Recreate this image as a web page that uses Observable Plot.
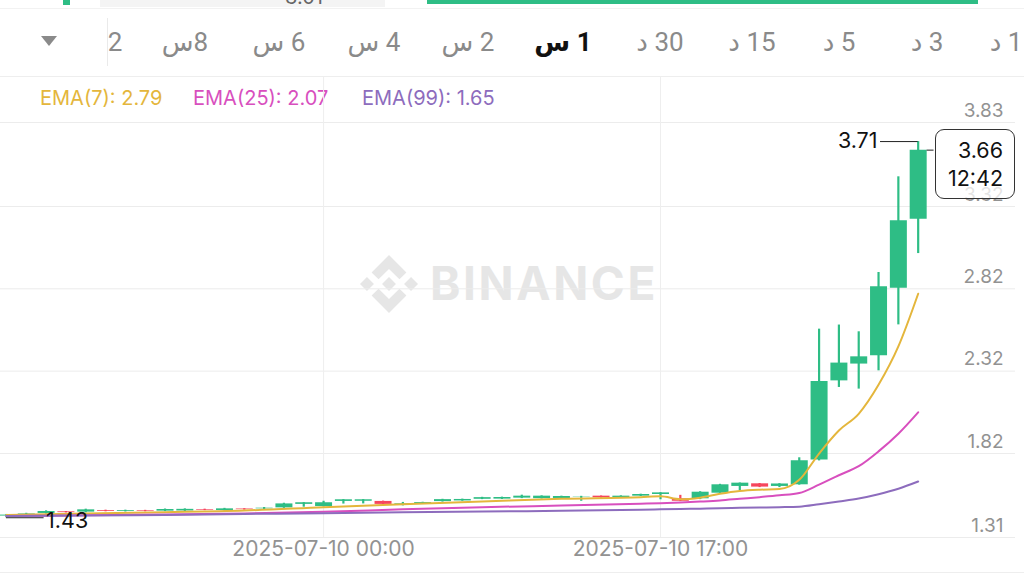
<!DOCTYPE html>
<html><head><meta charset="utf-8">
<script src="https://cdn.jsdelivr.net/npm/d3@7"></script>
<script src="https://cdn.jsdelivr.net/npm/@observablehq/plot@0.6"></script>
<style>
html,body{margin:0;padding:0;background:#fff}
body{width:1024px;height:576px;overflow:hidden;position:relative;font-family:Inter,Roboto,"DejaVu Sans",sans-serif}
.abs{position:absolute}
.tab{position:absolute;top:42px;transform:translate(-50%,-50%);font-size:26px;color:#8a8a8a;white-space:nowrap;font-family:Roboto,"DejaVu Sans",sans-serif}
.tab.sel{color:#111;font-weight:bold}
#legend span{position:absolute;top:98px;transform:translateY(-50%);font-size:20px;white-space:nowrap}
#chart{position:absolute;left:0;top:77px}
#chart svg{background:none !important}
.pbox{position:absolute;border:1.5px solid #333;border-radius:9px;background:rgba(255,255,255,0.75);box-sizing:border-box;font-size:21.5px;color:#111;text-align:right;line-height:28px;padding-right:11px}
</style>
</head><body>
<!-- top strip -->
<div class="abs" style="left:63px;top:0;width:7px;height:5px;background:#2ebd85"></div>
<div class="abs" style="left:100px;top:0;width:285px;height:7px;background:#f4f4f4;overflow:hidden">
  <div class="abs" style="left:185px;top:-15px;font-size:20px;color:#666">3.01</div>
</div>
<div class="abs" style="left:427px;top:0;width:551px;height:4px;background:#2ebd85"></div>
<div class="abs" style="left:0;top:8px;width:1024px;height:1px;background:#f2f2f2"></div>
<!-- tabs -->
<div class="abs" style="left:41px;top:36px;width:0;height:0;border-left:8px solid transparent;border-right:8px solid transparent;border-top:10px solid #8a8a8a"></div>
<div class="abs" style="left:107px;top:18px;width:1px;height:48px;background:#eaeaea"></div>
<div id="tabs"></div>
<div class="abs" style="left:0;top:76px;width:1024px;height:1px;background:#eeeeee"></div>
<!-- legend -->
<div id="legend"></div>
<!-- watermark -->
<svg class="abs" style="left:360px;top:255px" width="58" height="58" viewBox="0 0 100 100">
  <g fill="#e6e6e6">
    <polygon points="50,38 62,50 50,62 38,50"/>
    <polygon points="12,38 24,50 12,62 0,50"/>
    <polygon points="88,38 100,50 88,62 76,50"/>
    <polygon points="50,0 80,30 68,42 50,24 32,42 20,30"/>
    <polygon points="50,100 80,70 68,58 50,76 32,58 20,70"/>
  </g>
</svg>
<div class="abs" style="left:430px;top:283px;transform:translateY(-50%);font-size:46px;font-weight:bold;color:#e6e6e6;letter-spacing:2.6px;font-family:Inter,Roboto,sans-serif">BINANCE</div>
<div id="chart"></div>
<div class="abs" style="left:0;top:572px;width:1024px;height:1px;background:#eeeeee"></div>
<script>
// ---- data ----
const candleStart = "2025-07-09T08:00Z"; // first hourly candle
const opens  = [1.440,1.447,1.456,1.466,1.464,1.474,1.468,1.473,1.470,1.471,1.480,1.474,1.483,1.484,1.490,1.511,1.498,1.529,1.530,1.529,1.512,1.516,1.528,1.532,1.542,1.543,1.549,1.546,1.547,1.556,1.561,1.551,1.561,1.571,1.545,1.545,1.579,1.620,1.636,1.620,1.630,1.780,2.261,2.363,2.413,2.824,3.243];
const highs  = [1.450,1.457,1.472,1.468,1.482,1.476,1.476,1.475,1.483,1.484,1.482,1.487,1.485,1.492,1.518,1.522,1.530,1.540,1.540,1.531,1.523,1.524,1.542,1.543,1.554,1.555,1.567,1.563,1.561,1.560,1.562,1.563,1.573,1.582,1.566,1.588,1.633,1.641,1.638,1.637,1.794,2.575,2.600,2.559,2.919,3.500,3.714];
const lows   = [1.430,1.442,1.452,1.459,1.460,1.466,1.465,1.466,1.467,1.468,1.473,1.471,1.476,1.480,1.487,1.494,1.495,1.513,1.514,1.508,1.502,1.513,1.525,1.530,1.540,1.541,1.546,1.544,1.545,1.530,1.549,1.549,1.559,1.539,1.528,1.540,1.576,1.595,1.613,1.613,1.628,1.775,2.221,2.211,2.322,2.601,3.034];
const closes = [1.446,1.453,1.468,1.461,1.478,1.469,1.473,1.469,1.480,1.481,1.476,1.484,1.479,1.488,1.514,1.521,1.521,1.539,1.539,1.511,1.516,1.522,1.540,1.541,1.552,1.553,1.561,1.561,1.559,1.558,1.551,1.561,1.571,1.581,1.530,1.585,1.630,1.640,1.616,1.635,1.776,2.257,2.369,2.407,2.832,3.233,3.662];

const emaRef = "2025-07-10T00:00Z"; // hours below are relative to this
const emaHours = [-16,-12,-8,-4,0,4,8,12,16,17,18,19,20,21,22,23,24,25,26,27,28,29,30];
const ema7  = [1.446,1.456,1.464,1.474,1.494,1.512,1.528,1.545,1.555,1.560,1.542,1.552,1.575,1.592,1.600,1.604,1.660,1.820,1.960,2.061,2.237,2.470,2.790];
const ema25 = [1.440,1.445,1.450,1.456,1.466,1.481,1.494,1.504,1.515,1.518,1.522,1.528,1.535,1.545,1.555,1.566,1.580,1.631,1.688,1.743,1.833,1.940,2.070];
const ema99 = [1.440,1.443,1.447,1.453,1.457,1.464,1.468,1.472,1.479,1.481,1.483,1.485,1.487,1.490,1.492,1.494,1.497,1.512,1.529,1.547,1.573,1.606,1.650];

const yTicks = [1.31,1.82,2.32,2.82,3.32,3.83];
const xTicks = ["2025-07-10T00:00Z","2025-07-10T17:00Z"];
const tabLabels = ["2","8س","6 س","4 س","2 س","1 س","30 د","15 د","5 د","3 د","1 د"];
const selectedTab = "1 س";
const legendLabels = ["EMA(7): 2.79","EMA(25): 2.07","EMA(99): 1.65"];
const lastPrice = 3.66, countdown = "12:42", highLabel = "3.71", lowLabel = "1.43";

// ---- style ----
const GREEN = "#2ebd85", RED = "#f6465d";
const COLORS = ["#e4b63c","#d84fbe","#8d6cbd"];
const tabX = [115,185,279,374,468,563,660,752,839,927,1006];
const legX = [40,193,362];

const tabsDiv = document.getElementById("tabs");
tabLabels.forEach((t,i)=>{
  const s=document.createElement("span");
  s.className="tab"+(t===selectedTab?" sel":"");
  s.dir="rtl"; s.textContent=t; s.style.left=tabX[i]+"px";
  tabsDiv.appendChild(s);
});
const legDiv = document.getElementById("legend");
legendLabels.forEach((t,i)=>{
  const s=document.createElement("span");
  s.textContent=t; s.style.left=legX[i]+"px"; s.style.color=COLORS[i];
  legDiv.appendChild(s);
});

const H = 3600e3;
const t0 = new Date(candleStart).getTime();
const ref = new Date(emaRef).getTime();
const candles = opens.map((o,i)=>({t:new Date(t0+i*H), o, h:highs[i], l:lows[i], c:closes[i], up: closes[i]>=o}));
const emaSeries = [ema7,ema25,ema99].flatMap((arr,k)=>arr.map((v,i)=>({t:new Date(ref+emaHours[i]*H), v, k})));
const last = candles[candles.length-1];
const lowC = candles.reduce((a,b)=>b.l<a.l?b:a);
const hiC = candles.reduce((a,b)=>b.h>a.h?b:a);

const chart = Plot.plot({
  width:1024, height:499, marginTop:0, marginBottom:39, marginLeft:0, marginRight:9,
  x:{type:"utc", domain:[new Date(ref-16.30*H), new Date(ref+34.91*H)], axis:null},
  y:{domain:[1.31, 4.103], axis:null},
  style:{background:"none", fontFamily:"Inter,Roboto,sans-serif"},
  marks:[
    Plot.ruleY(yTicks, {stroke:"#ececec", strokeWidth:1}),
    Plot.ruleX(xTicks.map(d=>new Date(d)), {stroke:"#eeeeee", strokeWidth:1}),
    Plot.text(yTicks, {y:d=>d, text:d=>d.toFixed(2), frameAnchor:"right", textAnchor:"end", dx:-12, dy:-12, fill:"#929292", fontSize:19}),
    Plot.text(xTicks.map(d=>new Date(d)), {x:d=>d, text:d=>d3.utcFormat("%Y-%m-%d %H:%M")(d), frameAnchor:"bottom", dy:18, fill:"#929292", fontSize:21}),
    Plot.ruleX(candles, {x:"t", y1:"l", y2:"h", stroke:d=>d.up?GREEN:RED, strokeWidth:2.2}),
    Plot.ruleX(candles, {x:"t", y1:"o", y2:"c", stroke:d=>d.up?GREEN:RED, strokeWidth:17}),
    Plot.line(emaSeries, {x:"t", y:"v", z:"k", stroke:d=>COLORS[d.k], strokeWidth:2, curve:"monotone-x"}),
    // high marker
    Plot.ruleY([hiC], {y:"h", x1:d=>new Date(d.t.getTime()-1.9*H), x2:"t", stroke:"#222", strokeWidth:1}),
    Plot.text([hiC], {x:d=>new Date(d.t.getTime()-1.9*H), y:"h", text:()=>highLabel, textAnchor:"end", dx:-3, fill:"#111", fontSize:21.5}),
    // low marker
    Plot.ruleY([lowC], {y:"l", x1:"t", x2:d=>new Date(d.t.getTime()+1.9*H), stroke:"#222", strokeWidth:1}),
    Plot.text([lowC], {x:d=>new Date(d.t.getTime()+1.9*H), y:"l", text:()=>lowLabel, textAnchor:"start", dx:2, dy:3, fill:"#111", fontSize:21.5}),
    // last price tick
    Plot.ruleY([last], {y:"c", x1:d=>new Date(d.t.getTime()+0.45*H), x2:d=>new Date(d.t.getTime()+0.8*H), stroke:"#222", strokeWidth:1})
  ]
});
document.getElementById("chart").appendChild(chart);

// price box positioned with the y scale
const yPix = 77 + chart.scale("y").apply(last.c);
const box = document.createElement("div");
box.className="pbox";
box.style.left="935px"; box.style.top=(yPix-21)+"px"; box.style.width="80px"; box.style.height="70px";
box.innerHTML = lastPrice.toFixed(2)+"<br>"+countdown;
box.style.paddingTop="6px";
document.body.appendChild(box);
</script>
</body></html>
